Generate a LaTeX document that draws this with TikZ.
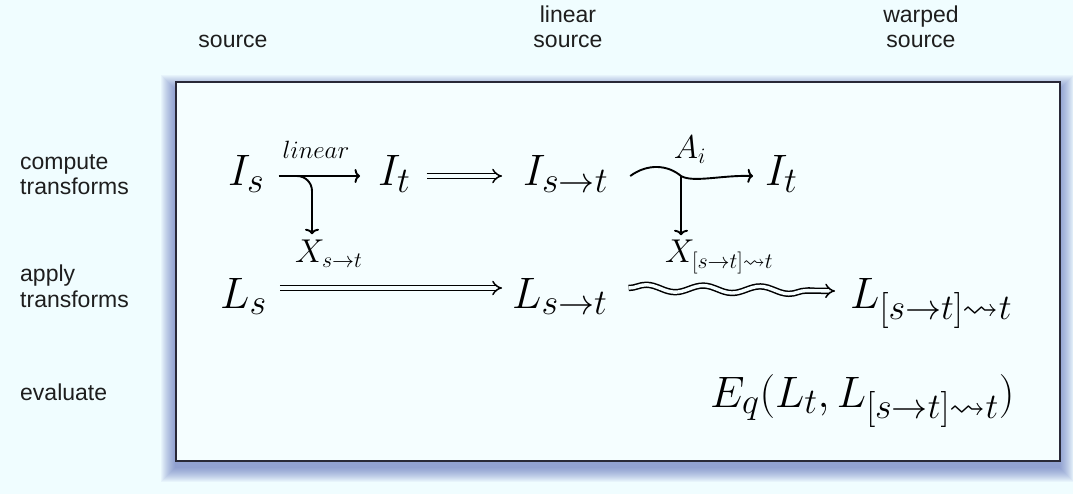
\RequirePackage{fix-cm}
\documentclass[tikz,border=0pt]{standalone}
\usepackage{amssymb}
\usepackage[no-math]{fontspec}
\newfontfamily\labfont{Liberation Sans}
\DeclareMathSizes{44}{44}{36}{28}
\DeclareMathSizes{33}{33}{22}{16}
\usetikzlibrary{arrows.meta,decorations.pathmorphing,calc}
\definecolor{bgc}{RGB}{240,253,255}
\definecolor{boxc}{RGB}{245,254,255}
\definecolor{edgec}{RGB}{40,40,55}
\definecolor{shadc}{RGB}{75,95,180}
\definecolor{txtc}{RGB}{30,30,30}
\begin{document}
\begin{tikzpicture}[x=1pt,y=-1pt,
  lab/.style={font=\labfont\fontsize{23}{25}\selectfont, inner sep=0pt, text=txtc},
  mth/.style={font=\fontsize{44}{50}\selectfont, inner sep=0pt, anchor=base west},
  sml/.style={font=\fontsize{33}{36}\selectfont, inner sep=0pt, anchor=base west},
  arr/.style={line width=1.9pt, -{To[length=5.5pt,width=14pt]}},
  dbl/.style={double=boxc, double distance=3.4pt, line width=1.5pt, -{Implies[scale=1.7]}}]
\useasboundingbox (0,0) rectangle (1073,494);
\fill[bgc] (0,0) rectangle (1073,494);
% shadow
\foreach \i in {1,...,15}{
  \fill[shadc, opacity=0.05] (176-\i,90-\i) rectangle (1059+\i,467+\i);
}
\draw[edgec, line width=1.8pt, fill=boxc] (176,82) rectangle (1060,461);
% column and row labels
\node[lab, anchor=base] (csrc) at (233,48) {source};
\node[lab, anchor=base, align=center] (clin) at (568,48) {linear\\source};
\node[lab, anchor=base, align=center] (cwrp) at (921,48) {warped\\source};
\node[lab, anchor=base west, align=left] (rcmp) at (20,195) {compute\\transforms};
\node[lab, anchor=base west, align=left] (rapp) at (20,307) {apply\\transforms};
\node[lab, anchor=base west] (reval) at (20,400) {evaluate};
% math nodes
\node[mth] (Is) at (228,186) {$I_s$};
\node[mth] (It) at (378,186) {$I_t$};
\node[mth] (Ist) at (523,186) {$I_{s\to t}$};
\node[mth] (It2) at (765,186) {$I_t$};
\node[mth] (Ls) at (220,308) {$L_s$};
\node[mth] (Lst) at (512,308) {$L_{s\to t}$};
\node[mth] (Lw) at (850,308) {$L_{[s\to t]\leadsto t}$};
\node[mth] (Eq) at (710,407) {$E_q(L_t, L_{[s\to t]\leadsto t})$};
\node[sml] (Xst) at (295,263) {$X_{s\to t}$};
\node[sml] (Xw) at (665,263) {$X_{[s\to t]\leadsto t}$};
\node[font=\fontsize{25}{30}\selectfont, inner sep=0pt, anchor=base] (lin) at (316,159) {$linear$};
\node[font=\fontsize{33}{36}\selectfont, inner sep=0pt, anchor=base] (Ai) at (690,159) {$A_i$};
% rows for connectors
\coordinate (r1) at (0,176);
\coordinate (r2) at (0,288);
\coordinate (j1) at (295,176);
\coordinate (j2) at (681,176);
% connectors
\draw[arr, shorten <=14pt, shorten >=18pt] (Is.east |- r1) -- (It.west |- r1);
\draw[arr, rounded corners=15pt, shorten >=6pt] (j1) -| (312,0 |- Xst.north);
\draw[dbl, shorten <=16pt, shorten >=21pt] (It.east |- r1) -- (Ist.west |- r1);
\draw[arr] ([xshift=22pt]Ist.east |- r1) .. controls (648,163) and (668,165) .. (j2)
   .. controls (693,183) and (722,175) .. ([xshift=-12pt]It2.west |- r1);
\draw[arr, shorten >=5pt] (j2) -- (j2 |- Xw.north);
\draw[dbl, shorten <=13pt, shorten >=10pt] (Ls.east |- r2) -- (Lst.west |- r2);
\draw[dbl, decorate, decoration={snake, amplitude=3.5pt, segment length=57pt, post length=16pt}]
   ([xshift=21pt]Lst.east |- r2) -- ([xshift=-15pt,yshift=-3pt]Lw.west |- r2);
\end{tikzpicture}
\end{document}
